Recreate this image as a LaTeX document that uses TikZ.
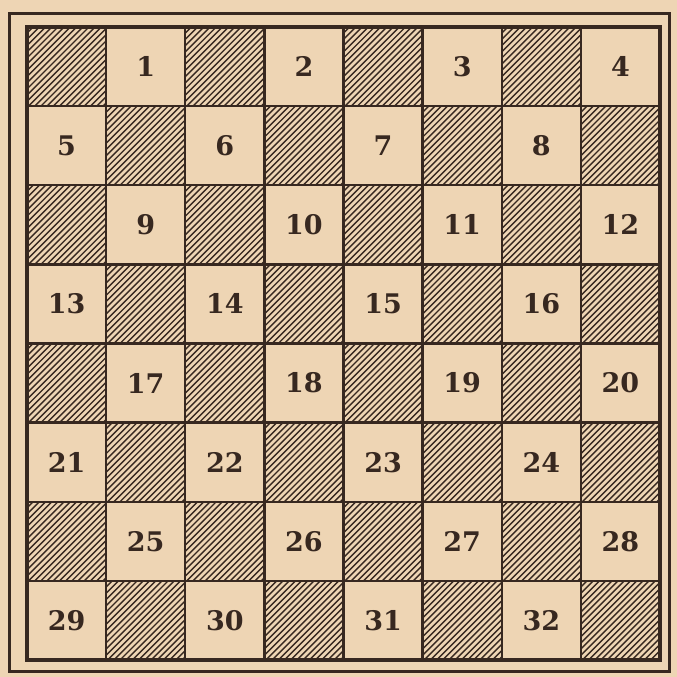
\documentclass[tikz,border=0pt]{standalone}
\usepackage{fontspec}
\setmainfont{DejaVu Serif}
\definecolor{paper}{RGB}{238,213,180}
\definecolor{ink}{RGB}{55,40,32}
\tikzset{
  hatchline/.style={ink, line width=1.4pt},
  gridline/.style={ink, line width=2.3pt},
  numlabel/.style={text=ink, font=\fontsize{27}{30}\selectfont\bfseries, inner sep=0pt}
}
\begin{document}
\begin{tikzpicture}[x=1pt,y=-1pt]
\fill[paper] (0,0) rectangle (677,677);
\useasboundingbox (0,0) rectangle (677,677);
\def\s{79.125}
% hatched squares
\foreach \r in {0,...,7} {
  \foreach \c in {0,2,4,6} {
    \pgfmathsetmacro\xo{27+(\c+mod(\r,2))*\s}
    \pgfmathsetmacro\yo{27+\r*\s}
    \begin{scope}
      \clip (\xo,\yo) rectangle ++(\s,\s);
      \foreach \k in {0,6.2,...,162} {
        \draw[hatchline] (\xo+\k-\s,\yo+\s) -- (\xo+\k,\yo);
      }
    \end{scope}
  }
}
% numbers
\foreach \r in {0,...,7} {
  \foreach \i in {0,1,2,3} {
    \pgfmathtruncatemacro\cc{2*\i+1-mod(\r,2)}
    \pgfmathtruncatemacro\n{4*\r+\i+1}
    \node[numlabel] (n\n) at ({27+(\cc+0.5)*\s},{27+(\r+0.5)*\s}) {\n};
  }
}
% grid
\foreach \i in {1,...,7} {
  \draw[gridline] ({27+\i*\s},27) -- ({27+\i*\s},660);
  \draw[gridline] (27,{27+\i*\s}) -- (660,{27+\i*\s});
}
\draw[ink, line width=3.2pt] (27,27) rectangle (660,660);
% outer frame
\draw[ink, line width=3pt] (9.5,13.5) rectangle (669.5,671.5);
\end{tikzpicture}
\end{document}
